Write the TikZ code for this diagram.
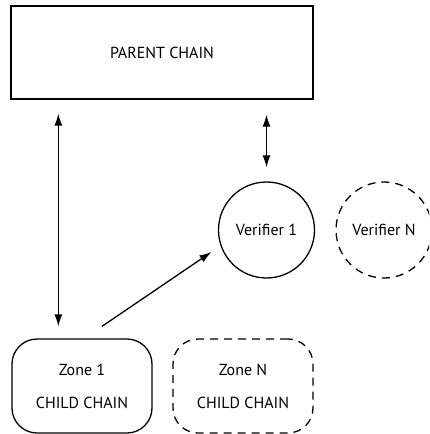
\documentclass[tikz,border=0pt]{standalone}
\usepackage{fontspec}
\setmainfont{PT Sans}
\usepackage{tikz}
\usetikzlibrary{arrows.meta,calc}

\begin{document}
\begin{tikzpicture}[x=1pt,y=-1pt,line width=1.3pt,
  font=\fontsize{16}{33}\selectfont,
  chainbox/.style={draw,rectangle,minimum width=302pt,minimum height=93pt},
  zonebox/.style={draw,rectangle,rounded corners=25pt,minimum width=140pt,minimum height=94pt,align=center},
  verifier/.style={draw,circle,minimum size=96pt,inner sep=0pt},
  dashline/.style={dash pattern=on 8pt off 6pt},
  pointer/.style={{Latex[length=12pt,width=8pt]}-{Latex[length=12pt,width=8pt]}},
  onepointer/.style={-{Latex[length=12pt,width=8pt]}}]
\useasboundingbox (0,0) rectangle (429,434);
\begin{scope}
\clip (0,0) rectangle (429,434);
\node[chainbox] (parent) at (162,52.5) {PARENT CHAIN};
\node[verifier] (verifier1) at (266.5,230) {Verifier 1};
\node[verifier,dashline] (verifierN) at (384,230) {Verifier N};
\node[zonebox] (zone1) at (82,386) {Zone 1\\CHILD CHAIN};
\node[zonebox,dashline] (zoneN) at (243,386) {Zone N\\CHILD CHAIN};
\end{scope}
\draw[pointer,shorten <=14pt,shorten >=12pt] ([xshift=48pt]parent.south west) -- ([xshift=47pt]zone1.north west);
\draw[pointer,shorten <=15pt,shorten >=14pt] (verifier1.north |- parent.south) -- (verifier1.north);
\draw[onepointer,shorten >=11pt] ([xshift=20pt,yshift=12pt]zone1.north) -- (verifier1.199);
\end{tikzpicture}
\end{document}
